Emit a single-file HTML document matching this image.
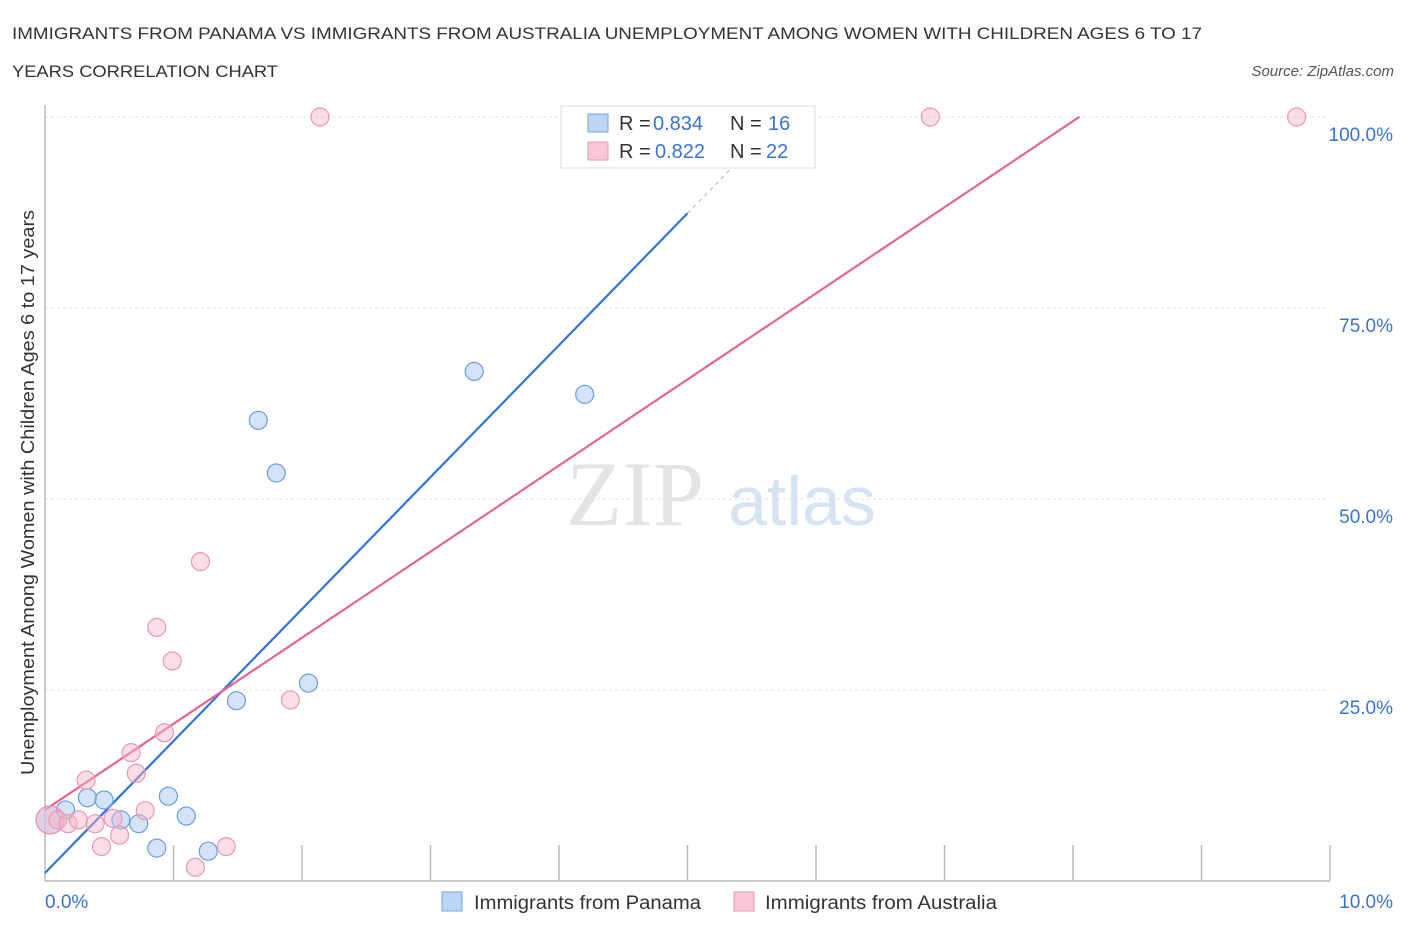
<!DOCTYPE html>
<html><head><meta charset="utf-8"><style>
body{margin:0;background:#fff;width:1406px;height:930px;overflow:hidden;font-family:"Liberation Sans",sans-serif}
svg{position:absolute;left:0;top:0}
</style></head><body>
<svg width="1406" height="930">
<text x="12" y="39" font-size="17" fill="#333" textLength="1190" lengthAdjust="spacingAndGlyphs">IMMIGRANTS FROM PANAMA VS IMMIGRANTS FROM AUSTRALIA UNEMPLOYMENT AMONG WOMEN WITH CHILDREN AGES 6 TO 17</text>
<text x="12" y="77" font-size="17" fill="#333" textLength="266" lengthAdjust="spacingAndGlyphs">YEARS CORRELATION CHART</text>
<text x="1394" y="76" font-size="15" fill="#555" font-style="italic" text-anchor="end">Source: ZipAtlas.com</text>
<text x="34" y="775" font-size="18" fill="#333" textLength="565" lengthAdjust="spacingAndGlyphs" transform="rotate(-90 34 775)">Unemployment Among Women with Children Ages 6 to 17 years</text>
<g>
<text x="635" y="525" font-size="92" font-family="Liberation Serif,serif" fill="#e4e4e4" text-anchor="middle">ZIP</text>
<text x="802" y="525" font-size="70" fill="#d6e3f3" text-anchor="middle">atlas</text>
</g>
<g id="grid"></g><g id="axes"></g><g id="lines"></g><g id="pts"></g>
<g>
<rect x="561" y="106" width="254" height="62" fill="#fff" stroke="#ddd"/>
<rect x="588" y="114" width="20" height="18" fill="#bcd4f5" stroke="#7aa6e6"/>
<text y="130" font-size="20" fill="#333"><tspan x="619">R =</tspan><tspan x="653" fill="#3b73d1">0.834</tspan><tspan x="730">N =</tspan><tspan x="768" fill="#3b73d1">16</tspan></text>
<rect x="588" y="142" width="20" height="18" fill="#f8c6d5" stroke="#e99ab3"/>
<text y="158" font-size="20" fill="#333"><tspan x="619">R =</tspan><tspan x="655" fill="#3b73d1">0.822</tspan><tspan x="730">N =</tspan><tspan x="766" fill="#3b73d1">22</tspan></text>
</g>
<g>
<rect x="442" y="892" width="20" height="19" fill="#bcd4f5" stroke="#7aa6e6"/>
<text x="474" y="909" font-size="19" fill="#333" textLength="227" lengthAdjust="spacingAndGlyphs">Immigrants from Panama</text>
<rect x="734" y="892" width="20" height="19" fill="#f8c6d5" stroke="#e99ab3"/>
<text x="765" y="909" font-size="19" fill="#333" textLength="232" lengthAdjust="spacingAndGlyphs">Immigrants from Australia</text>
</g>
</svg>
<script>
const xTicks=[0,1,2,3,4,5,6,7,8,9,10];
const yTicks=[25,50,75,100];
const yTickLabels=["25.0%","50.0%","75.0%","100.0%"];
const panamaX=[0.04,0.16,0.33,0.46,0.59,0.73,0.87,0.96,1.10,1.27,1.49,1.66,1.80,2.05,3.34,4.20];
const panamaY=[8.0,9.3,10.9,10.6,8.0,7.5,4.3,11.1,8.5,3.9,23.6,60.3,53.4,25.9,66.7,63.7];
const ausX=[0.04,0.10,0.18,0.26,0.32,0.39,0.44,0.53,0.58,0.67,0.71,0.78,0.87,0.93,0.99,1.17,1.21,1.41,1.91,2.14,6.89,9.74];
const ausY=[8.0,8.0,7.5,8.0,13.2,7.5,4.5,8.2,6.0,16.8,14.1,9.2,33.2,19.4,28.8,1.8,41.8,4.5,23.7,100,100,100];
const panamaTrend=[1.05,17.27];
const ausTrend=[9.3,11.27];
const X=v=>45+v*128.5, Y=v=>881-v*7.64;
const NS="http://www.w3.org/2000/svg";
function mk(tag,attrs,parent){const e=document.createElementNS(NS,tag);for(const k in attrs)e.setAttribute(k,attrs[k]);document.getElementById(parent).appendChild(e);return e;}
yTicks.forEach((t,i)=>{
 const g=mk('line',{x1:45,x2:1330,y1:Y(t),y2:Y(t),stroke:'#e2e2e2','stroke-dasharray':'3 3'},'grid');
 
 
 const l=mk('text',{x:1393,y:Y(t)+24,'font-size':19,fill:'#3b73d1','text-anchor':'end'},'grid');
 l.textContent=yTickLabels[i];
 
 
});
const ax=mk('line',{x1:45,x2:1330,y1:881,y2:881,stroke:'#bbb','stroke-width':1.5},'axes');


const ay=mk('line',{x1:45,x2:45,y1:105,y2:881,stroke:'#bbb','stroke-width':1.5},'axes');


xTicks.forEach(t=>{
 if(t===0)return;
 const k=mk('line',{x1:X(t),x2:X(t),y1:845,y2:881,stroke:'#bbb','stroke-width':1.5},'axes');
 
 
});
const x0=mk('text',{x:45,y:908,'font-size':19,fill:'#3b73d1'},'axes');x0.textContent='0.0%';


const x1=mk('text',{x:1393,y:908,'font-size':19,fill:'#3b73d1','text-anchor':'end'},'axes');x1.textContent='10.0%';


function dot(x,y,i,fill,stroke,name){
 const r=i===0?14:9;
 const c=mk('circle',{cx:X(x),cy:Y(y),r:r,fill:fill,stroke:stroke,'stroke-width':1.2},'pts');
 
 
}
panamaX.forEach((x,i)=>dot(x,panamaY[i],i,'rgba(170,200,240,0.5)','#6a9de0','panama-point'));
ausX.forEach((x,i)=>dot(x,ausY[i],i,'rgba(245,180,200,0.45)','#eb97b2','australia-point'));
const pb=mk('line',{x1:X(0),y1:Y(panamaTrend[0]),x2:X(5.0),y2:Y(panamaTrend[0]+panamaTrend[1]*5.0),stroke:'#2f74d6','stroke-width':2.2},'lines');


const pd=mk('line',{x1:X(5.0),y1:Y(panamaTrend[0]+panamaTrend[1]*5.0),x2:X(5.42),y2:Y(panamaTrend[0]+panamaTrend[1]*5.42),stroke:'#9bb8e6','stroke-width':1,'stroke-dasharray':'4 4'},'lines');


const pa=mk('line',{x1:X(0),y1:Y(ausTrend[0]),x2:X(8.05),y2:Y(ausTrend[0]+ausTrend[1]*8.05),stroke:'#e46690','stroke-width':2.2},'lines');


</script>
</body></html>
